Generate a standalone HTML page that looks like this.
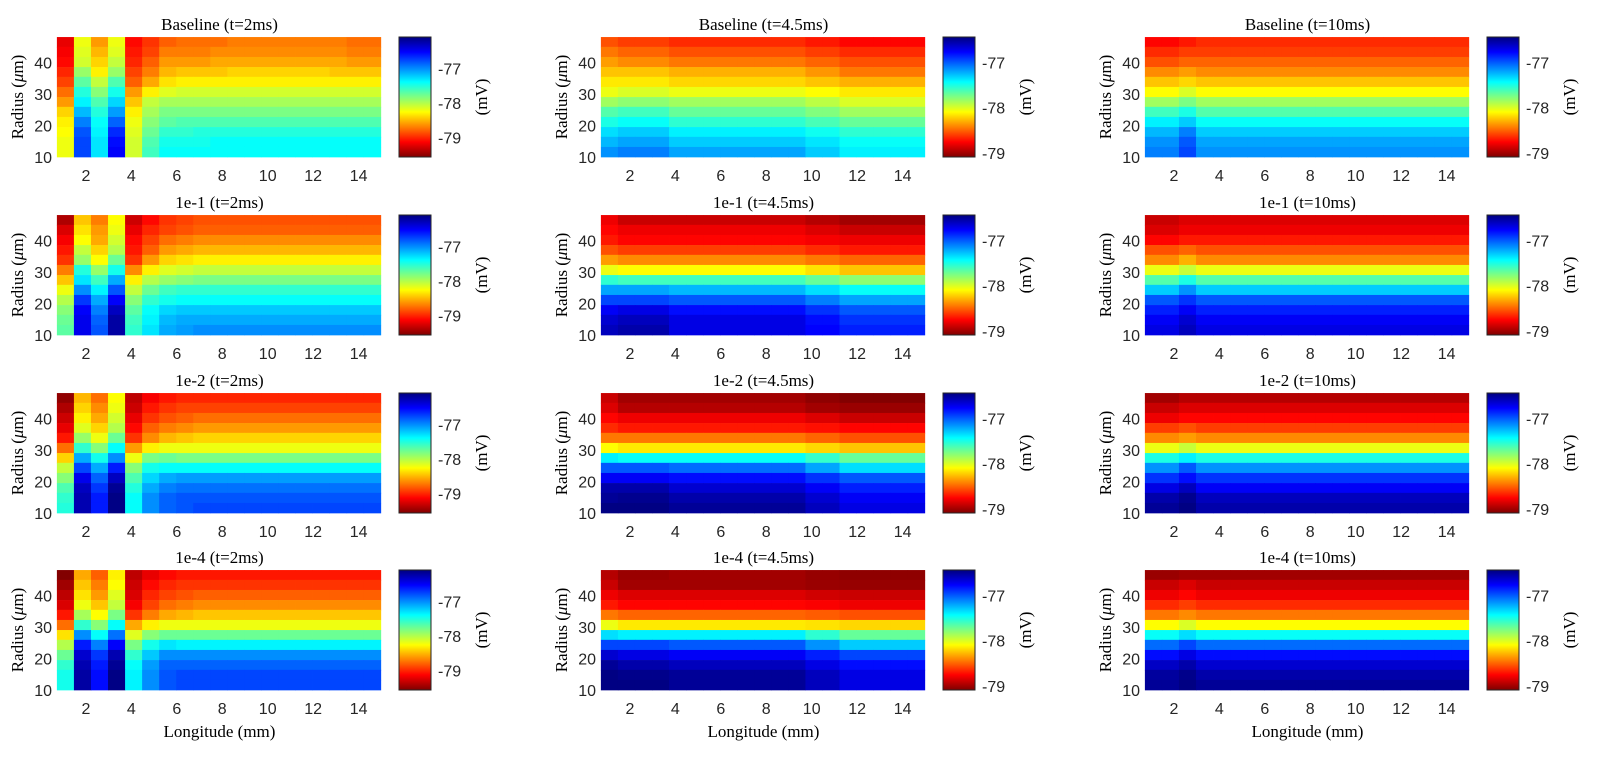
<!DOCTYPE html>
<html><head><meta charset="utf-8"><style>
html,body{margin:0;padding:0;background:#fff;}
svg{display:block;}
.tt{font-family:"Liberation Serif",serif;font-size:17px;fill:#000;}
.tk{font-family:"Liberation Sans",sans-serif;font-size:16px;fill:#262626;}
.cbt{font-family:"Liberation Sans",sans-serif;font-size:16px;fill:#262626;}
</style></head><body>
<svg id="fig" width="1610" height="758" viewBox="0 0 1610 758" xmlns="http://www.w3.org/2000/svg">
<defs id="defs"></defs>
</svg>
<script>
// ---------- data ----------
const longitudes = [1.1,1.85,2.6,3.35,4.1,4.85,5.6,6.35,7.1,7.85,8.6,9.35,10.1,10.85,11.6,12.35,13.1,13.85,14.6];
const radii = [46.4,43.3,40.1,36.9,33.8,30.6,27.4,24.3,21.1,17.9,14.8,11.6]; // top -> bottom
const xTicks = [2,4,6,8,10,12,14];
const yTicks = [10,20,30,40];
const cbTicks = [-77,-78,-79];
const rowLabels = ["Baseline","1e-1","1e-2","1e-4"];
const colTimes = ["t=2ms","t=4.5ms","t=10ms"];
const colRanges = [[-79.56,-76.08],[-79.09,-76.44],[-79.09,-76.44]];

const L1 = [
[-79.2,-78.2,-78.6,-78.2,-79.1,-78.95,-78.8,-78.75,-78.75,-78.75,-78.7,-78.7,-78.7,-78.7,-78.7,-78.7,-78.7,-78.75,-78.75],
[-79.15,-78.15,-78.5,-78.15,-79.05,-78.9,-78.7,-78.7,-78.7,-78.65,-78.65,-78.65,-78.65,-78.65,-78.65,-78.65,-78.65,-78.7,-78.7],
[-79.1,-78.1,-78.4,-78.05,-79.0,-78.8,-78.6,-78.6,-78.6,-78.55,-78.55,-78.55,-78.55,-78.55,-78.55,-78.55,-78.55,-78.6,-78.6],
[-79.0,-77.9,-78.3,-77.9,-78.9,-78.7,-78.5,-78.45,-78.45,-78.45,-78.4,-78.4,-78.4,-78.4,-78.4,-78.4,-78.45,-78.45,-78.45],
[-78.9,-77.7,-78.05,-77.65,-78.8,-78.55,-78.35,-78.3,-78.3,-78.3,-78.3,-78.3,-78.3,-78.3,-78.3,-78.3,-78.3,-78.3,-78.3],
[-78.75,-77.5,-77.85,-77.45,-78.6,-78.3,-78.15,-78.1,-78.1,-78.1,-78.1,-78.1,-78.1,-78.1,-78.1,-78.1,-78.1,-78.1,-78.1],
[-78.6,-77.35,-77.65,-77.25,-78.45,-78.05,-77.95,-77.95,-77.95,-77.95,-77.95,-77.95,-77.95,-77.95,-77.95,-77.95,-77.95,-77.95,-77.95],
[-78.4,-77.15,-77.5,-77.05,-78.3,-77.95,-77.8,-77.8,-77.8,-77.8,-77.8,-77.8,-77.8,-77.8,-77.8,-77.8,-77.8,-77.8,-77.8],
[-78.3,-76.95,-77.4,-76.85,-78.2,-77.85,-77.7,-77.65,-77.65,-77.65,-77.65,-77.65,-77.65,-77.65,-77.65,-77.65,-77.65,-77.65,-77.65],
[-78.25,-76.8,-77.35,-76.65,-78.15,-77.75,-77.55,-77.55,-77.5,-77.5,-77.5,-77.5,-77.5,-77.5,-77.5,-77.5,-77.5,-77.5,-77.5],
[-78.2,-76.75,-77.3,-76.55,-78.1,-77.65,-77.45,-77.45,-77.45,-77.4,-77.4,-77.4,-77.4,-77.4,-77.4,-77.4,-77.4,-77.4,-77.4],
[-78.2,-76.75,-77.3,-76.5,-78.1,-77.6,-77.4,-77.4,-77.4,-77.4,-77.4,-77.4,-77.4,-77.4,-77.4,-77.4,-77.4,-77.4,-77.4]];

const L2 = [
[-79.4,-78.45,-78.7,-78.25,-79.3,-79.1,-78.95,-78.9,-78.85,-78.85,-78.85,-78.85,-78.85,-78.85,-78.85,-78.85,-78.85,-78.85,-78.85],
[-79.25,-78.35,-78.6,-78.2,-79.2,-79.0,-78.9,-78.85,-78.8,-78.8,-78.8,-78.8,-78.8,-78.8,-78.8,-78.8,-78.8,-78.8,-78.8],
[-79.15,-78.25,-78.55,-78.1,-79.1,-78.9,-78.75,-78.7,-78.65,-78.65,-78.65,-78.65,-78.65,-78.65,-78.65,-78.65,-78.65,-78.65,-78.65],
[-79.05,-78.05,-78.4,-78.0,-79.05,-78.8,-78.6,-78.55,-78.5,-78.5,-78.5,-78.5,-78.5,-78.5,-78.5,-78.5,-78.5,-78.5,-78.5],
[-78.95,-77.9,-78.25,-77.75,-78.95,-78.6,-78.4,-78.35,-78.3,-78.3,-78.3,-78.3,-78.3,-78.3,-78.3,-78.3,-78.3,-78.3,-78.3],
[-78.7,-77.5,-77.9,-77.45,-78.65,-78.3,-78.15,-78.1,-78.05,-78.05,-78.05,-78.05,-78.05,-78.05,-78.05,-78.05,-78.05,-78.05,-78.05],
[-78.45,-77.3,-77.6,-77.1,-78.3,-78.0,-77.9,-77.85,-77.8,-77.8,-77.8,-77.8,-77.8,-77.8,-77.8,-77.8,-77.8,-77.8,-77.8],
[-78.2,-77.0,-77.35,-76.8,-78.05,-77.75,-77.6,-77.55,-77.55,-77.55,-77.55,-77.55,-77.55,-77.55,-77.55,-77.55,-77.55,-77.55,-77.55],
[-78.0,-76.7,-77.1,-76.5,-77.85,-77.55,-77.45,-77.4,-77.4,-77.4,-77.4,-77.4,-77.4,-77.4,-77.4,-77.4,-77.4,-77.4,-77.4],
[-77.85,-76.5,-76.95,-76.3,-77.7,-77.4,-77.25,-77.2,-77.2,-77.2,-77.2,-77.2,-77.2,-77.2,-77.2,-77.2,-77.2,-77.2,-77.2],
[-77.75,-76.45,-76.85,-76.2,-77.6,-77.35,-77.15,-77.1,-77.1,-77.1,-77.1,-77.1,-77.1,-77.1,-77.1,-77.1,-77.1,-77.1,-77.1],
[-77.7,-76.45,-76.8,-76.2,-77.55,-77.3,-77.1,-77.05,-77.0,-77.0,-77.0,-77.0,-77.0,-77.0,-77.0,-77.0,-77.0,-77.0,-77.0]];

const L3 = [
[-79.5,-78.5,-78.75,-78.25,-79.35,-79.15,-79.05,-79.0,-79.0,-79.0,-79.0,-79.0,-79.0,-79.0,-79.0,-79.0,-79.0,-79.0,-79.0],
[-79.4,-78.4,-78.65,-78.2,-79.3,-79.05,-78.95,-78.9,-78.9,-78.9,-78.9,-78.9,-78.9,-78.9,-78.9,-78.9,-78.9,-78.9,-78.9],
[-79.3,-78.3,-78.55,-78.1,-79.2,-78.95,-78.85,-78.8,-78.75,-78.75,-78.75,-78.75,-78.75,-78.75,-78.75,-78.75,-78.75,-78.75,-78.75],
[-79.2,-78.15,-78.4,-78.0,-79.1,-78.8,-78.7,-78.65,-78.6,-78.6,-78.6,-78.6,-78.6,-78.6,-78.6,-78.6,-78.6,-78.6,-78.6],
[-79.05,-77.9,-78.2,-77.75,-78.95,-78.65,-78.5,-78.45,-78.4,-78.4,-78.4,-78.4,-78.4,-78.4,-78.4,-78.4,-78.4,-78.4,-78.4],
[-78.75,-77.55,-77.85,-77.4,-78.6,-78.3,-78.2,-78.2,-78.2,-78.2,-78.2,-78.2,-78.2,-78.2,-78.2,-78.2,-78.2,-78.2,-78.2],
[-78.4,-77.1,-77.45,-77.0,-78.2,-77.8,-77.75,-77.8,-77.8,-77.8,-77.8,-77.8,-77.8,-77.8,-77.8,-77.8,-77.8,-77.8,-77.8],
[-78.05,-76.75,-77.1,-76.6,-77.85,-77.45,-77.4,-77.4,-77.4,-77.4,-77.4,-77.4,-77.4,-77.4,-77.4,-77.4,-77.4,-77.4,-77.4],
[-77.85,-76.45,-76.85,-76.3,-77.65,-77.25,-77.1,-77.05,-77.05,-77.05,-77.05,-77.05,-77.05,-77.05,-77.05,-77.05,-77.05,-77.05,-77.05],
[-77.65,-76.3,-76.7,-76.15,-77.5,-77.1,-76.95,-76.9,-76.9,-76.9,-76.9,-76.9,-76.9,-76.9,-76.9,-76.9,-76.9,-76.9,-76.9],
[-77.55,-76.25,-76.6,-76.1,-77.4,-77.0,-76.85,-76.8,-76.8,-76.8,-76.8,-76.8,-76.8,-76.8,-76.8,-76.8,-76.8,-76.8,-76.8],
[-77.5,-76.25,-76.6,-76.1,-77.4,-77.0,-76.85,-76.8,-76.75,-76.75,-76.75,-76.75,-76.75,-76.75,-76.75,-76.75,-76.75,-76.75,-76.75]];

const L4 = [
[-79.55,-78.55,-78.8,-78.3,-79.35,-79.2,-79.1,-79.05,-79.05,-79.05,-79.05,-79.05,-79.05,-79.05,-79.05,-79.05,-79.05,-79.05,-79.05],
[-79.45,-78.45,-78.7,-78.25,-79.3,-79.1,-79.0,-78.95,-78.95,-78.95,-78.95,-78.95,-78.95,-78.95,-78.95,-78.95,-78.95,-78.95,-78.95],
[-79.35,-78.35,-78.6,-78.15,-79.25,-79.0,-78.9,-78.85,-78.8,-78.8,-78.8,-78.8,-78.8,-78.8,-78.8,-78.8,-78.8,-78.8,-78.8],
[-79.25,-78.2,-78.45,-78.05,-79.15,-78.9,-78.75,-78.7,-78.65,-78.65,-78.65,-78.65,-78.65,-78.65,-78.65,-78.65,-78.65,-78.65,-78.65],
[-79.05,-77.95,-78.25,-77.8,-78.95,-78.7,-78.55,-78.5,-78.45,-78.45,-78.45,-78.45,-78.45,-78.45,-78.45,-78.45,-78.45,-78.45,-78.45],
[-78.75,-77.55,-77.85,-77.4,-78.55,-78.3,-78.2,-78.2,-78.2,-78.2,-78.2,-78.2,-78.2,-78.2,-78.2,-78.2,-78.2,-78.2,-78.2],
[-78.35,-77.0,-77.4,-76.9,-78.15,-77.85,-77.75,-77.75,-77.75,-77.75,-77.75,-77.75,-77.75,-77.75,-77.75,-77.75,-77.75,-77.75,-77.75],
[-78.0,-76.6,-76.95,-76.5,-77.8,-77.45,-77.3,-77.35,-77.35,-77.35,-77.35,-77.35,-77.35,-77.35,-77.35,-77.35,-77.35,-77.35,-77.35],
[-77.75,-76.35,-76.7,-76.25,-77.55,-77.2,-77.0,-77.0,-77.0,-77.0,-77.0,-77.0,-77.0,-77.0,-77.0,-77.0,-77.0,-77.0,-77.0],
[-77.55,-76.25,-76.6,-76.15,-77.4,-77.05,-76.85,-76.85,-76.85,-76.85,-76.85,-76.85,-76.85,-76.85,-76.85,-76.85,-76.85,-76.85,-76.85],
[-77.45,-76.2,-76.55,-76.1,-77.35,-77.0,-76.8,-76.75,-76.75,-76.75,-76.75,-76.75,-76.75,-76.75,-76.75,-76.75,-76.75,-76.75,-76.75],
[-77.45,-76.2,-76.55,-76.1,-77.35,-77.0,-76.8,-76.75,-76.75,-76.75,-76.75,-76.75,-76.75,-76.75,-76.75,-76.75,-76.75,-76.75,-76.75]];

const M1 = [
[-78.55,-78.6,-78.6,-78.6,-78.65,-78.65,-78.65,-78.65,-78.65,-78.65,-78.65,-78.65,-78.7,-78.7,-78.75,-78.75,-78.75,-78.75,-78.75],
[-78.45,-78.5,-78.5,-78.5,-78.55,-78.55,-78.55,-78.55,-78.55,-78.55,-78.55,-78.55,-78.6,-78.6,-78.65,-78.65,-78.65,-78.65,-78.65],
[-78.35,-78.4,-78.4,-78.4,-78.45,-78.45,-78.45,-78.45,-78.45,-78.45,-78.45,-78.45,-78.5,-78.5,-78.55,-78.55,-78.55,-78.55,-78.55],
[-78.25,-78.25,-78.25,-78.25,-78.3,-78.3,-78.3,-78.3,-78.3,-78.3,-78.3,-78.3,-78.37,-78.37,-78.45,-78.45,-78.45,-78.45,-78.45],
[-78.15,-78.15,-78.15,-78.15,-78.2,-78.2,-78.2,-78.2,-78.2,-78.2,-78.2,-78.2,-78.25,-78.25,-78.3,-78.3,-78.3,-78.3,-78.3],
[-78.05,-78.0,-78.0,-78.0,-78.05,-78.05,-78.05,-78.05,-78.05,-78.05,-78.05,-78.05,-78.1,-78.1,-78.15,-78.15,-78.15,-78.15,-78.15],
[-77.85,-77.8,-77.8,-77.8,-77.85,-77.85,-77.85,-77.85,-77.85,-77.85,-77.85,-77.85,-77.92,-77.92,-78.0,-78.0,-78.0,-78.0,-78.0],
[-77.65,-77.6,-77.6,-77.6,-77.7,-77.7,-77.7,-77.7,-77.7,-77.7,-77.7,-77.7,-77.77,-77.77,-77.85,-77.85,-77.85,-77.85,-77.85],
[-77.5,-77.45,-77.45,-77.45,-77.55,-77.55,-77.55,-77.55,-77.55,-77.55,-77.55,-77.55,-77.62,-77.62,-77.7,-77.7,-77.7,-77.7,-77.7],
[-77.35,-77.3,-77.3,-77.3,-77.4,-77.4,-77.4,-77.4,-77.4,-77.4,-77.4,-77.4,-77.47,-77.47,-77.55,-77.55,-77.55,-77.55,-77.55],
[-77.25,-77.2,-77.2,-77.2,-77.3,-77.3,-77.3,-77.3,-77.3,-77.3,-77.3,-77.3,-77.37,-77.37,-77.45,-77.45,-77.45,-77.45,-77.45],
[-77.15,-77.1,-77.1,-77.1,-77.2,-77.2,-77.2,-77.2,-77.2,-77.2,-77.2,-77.2,-77.3,-77.3,-77.4,-77.4,-77.4,-77.4,-77.4]];

const M2 = [
[-78.8,-78.9,-78.9,-78.9,-78.9,-78.9,-78.9,-78.9,-78.9,-78.9,-78.9,-78.9,-78.95,-78.95,-79.0,-79.0,-79.0,-79.0,-79.0],
[-78.75,-78.8,-78.8,-78.8,-78.8,-78.8,-78.8,-78.8,-78.8,-78.8,-78.8,-78.8,-78.85,-78.85,-78.9,-78.9,-78.9,-78.9,-78.9],
[-78.7,-78.75,-78.75,-78.75,-78.75,-78.75,-78.75,-78.75,-78.75,-78.75,-78.75,-78.75,-78.78,-78.78,-78.8,-78.8,-78.8,-78.8,-78.8],
[-78.55,-78.6,-78.6,-78.6,-78.6,-78.6,-78.6,-78.6,-78.6,-78.6,-78.6,-78.6,-78.65,-78.65,-78.7,-78.7,-78.7,-78.7,-78.7],
[-78.35,-78.4,-78.4,-78.4,-78.4,-78.4,-78.4,-78.4,-78.4,-78.4,-78.4,-78.4,-78.45,-78.45,-78.5,-78.5,-78.5,-78.5,-78.5],
[-78.05,-78.1,-78.1,-78.1,-78.1,-78.1,-78.1,-78.1,-78.1,-78.1,-78.1,-78.1,-78.17,-78.17,-78.25,-78.25,-78.25,-78.25,-78.25],
[-77.55,-77.6,-77.6,-77.6,-77.6,-77.6,-77.6,-77.6,-77.6,-77.6,-77.6,-77.6,-77.7,-77.7,-77.8,-77.8,-77.8,-77.8,-77.8],
[-77.2,-77.2,-77.2,-77.2,-77.25,-77.25,-77.25,-77.25,-77.25,-77.25,-77.25,-77.25,-77.35,-77.35,-77.45,-77.45,-77.45,-77.45,-77.45],
[-76.95,-76.95,-76.95,-76.95,-77.0,-77.0,-77.0,-77.0,-77.0,-77.0,-77.0,-77.0,-77.1,-77.1,-77.2,-77.2,-77.2,-77.2,-77.2],
[-76.75,-76.7,-76.7,-76.7,-76.8,-76.8,-76.8,-76.8,-76.8,-76.8,-76.8,-76.8,-76.9,-76.9,-77.0,-77.0,-77.0,-77.0,-77.0],
[-76.65,-76.6,-76.6,-76.6,-76.7,-76.7,-76.7,-76.7,-76.7,-76.7,-76.7,-76.7,-76.8,-76.8,-76.9,-76.9,-76.9,-76.9,-76.9],
[-76.6,-76.55,-76.55,-76.55,-76.7,-76.7,-76.7,-76.7,-76.7,-76.7,-76.7,-76.7,-76.77,-76.77,-76.85,-76.85,-76.85,-76.85,-76.85]];

const M3 = [
[-78.9,-79.0,-79.0,-79.0,-79.0,-79.0,-79.0,-79.0,-79.0,-79.0,-79.0,-79.0,-79.05,-79.05,-79.08,-79.08,-79.08,-79.08,-79.08],
[-78.85,-78.95,-78.95,-78.95,-78.95,-78.95,-78.95,-78.95,-78.95,-78.95,-78.95,-78.95,-79.0,-79.0,-79.02,-79.02,-79.02,-79.02,-79.02],
[-78.75,-78.8,-78.8,-78.8,-78.8,-78.8,-78.8,-78.8,-78.8,-78.8,-78.8,-78.8,-78.85,-78.85,-78.9,-78.9,-78.9,-78.9,-78.9],
[-78.65,-78.7,-78.7,-78.7,-78.7,-78.7,-78.7,-78.7,-78.7,-78.7,-78.7,-78.7,-78.72,-78.72,-78.75,-78.75,-78.75,-78.75,-78.75],
[-78.45,-78.45,-78.45,-78.45,-78.45,-78.45,-78.45,-78.45,-78.45,-78.45,-78.45,-78.45,-78.5,-78.5,-78.55,-78.55,-78.55,-78.55,-78.55],
[-78.1,-78.15,-78.15,-78.15,-78.15,-78.15,-78.15,-78.15,-78.15,-78.15,-78.15,-78.15,-78.2,-78.2,-78.25,-78.25,-78.25,-78.25,-78.25],
[-77.4,-77.45,-77.45,-77.45,-77.45,-77.45,-77.45,-77.45,-77.45,-77.45,-77.45,-77.45,-77.57,-77.57,-77.7,-77.7,-77.7,-77.7,-77.7],
[-77.0,-77.0,-77.0,-77.0,-77.05,-77.05,-77.05,-77.05,-77.05,-77.05,-77.05,-77.05,-77.2,-77.2,-77.35,-77.35,-77.35,-77.35,-77.35],
[-76.75,-76.75,-76.75,-76.75,-76.8,-76.8,-76.8,-76.8,-76.8,-76.8,-76.8,-76.8,-76.9,-76.9,-77.0,-77.0,-77.0,-77.0,-77.0],
[-76.55,-76.55,-76.55,-76.55,-76.65,-76.65,-76.65,-76.65,-76.65,-76.65,-76.65,-76.65,-76.75,-76.75,-76.85,-76.85,-76.85,-76.85,-76.85],
[-76.5,-76.48,-76.48,-76.48,-76.55,-76.55,-76.55,-76.55,-76.55,-76.55,-76.55,-76.55,-76.65,-76.65,-76.75,-76.75,-76.75,-76.75,-76.75],
[-76.45,-76.45,-76.45,-76.45,-76.5,-76.5,-76.5,-76.5,-76.5,-76.5,-76.5,-76.5,-76.6,-76.6,-76.7,-76.7,-76.7,-76.7,-76.7]];

const M4 = [
[-78.95,-79.02,-79.02,-79.02,-79.0,-79.0,-79.0,-79.0,-79.0,-79.0,-79.0,-79.0,-79.03,-79.03,-79.05,-79.05,-79.05,-79.05,-79.05],
[-78.9,-79.0,-79.0,-79.0,-79.0,-79.0,-79.0,-79.0,-79.0,-79.0,-79.0,-79.0,-79.02,-79.02,-79.03,-79.03,-79.03,-79.03,-79.03],
[-78.8,-78.85,-78.85,-78.85,-78.85,-78.85,-78.85,-78.85,-78.85,-78.85,-78.85,-78.85,-78.88,-78.88,-78.9,-78.9,-78.9,-78.9,-78.9],
[-78.7,-78.75,-78.75,-78.75,-78.75,-78.75,-78.75,-78.75,-78.75,-78.75,-78.75,-78.75,-78.77,-78.77,-78.8,-78.8,-78.8,-78.8,-78.8],
[-78.45,-78.5,-78.5,-78.5,-78.5,-78.5,-78.5,-78.5,-78.5,-78.5,-78.5,-78.5,-78.52,-78.52,-78.55,-78.55,-78.55,-78.55,-78.55],
[-78.05,-78.15,-78.15,-78.15,-78.15,-78.15,-78.15,-78.15,-78.15,-78.15,-78.15,-78.15,-78.17,-78.17,-78.2,-78.2,-78.2,-78.2,-78.2],
[-77.35,-77.4,-77.4,-77.4,-77.4,-77.4,-77.4,-77.4,-77.4,-77.4,-77.4,-77.4,-77.55,-77.55,-77.7,-77.7,-77.7,-77.7,-77.7],
[-76.95,-76.95,-76.95,-76.95,-77.0,-77.0,-77.0,-77.0,-77.0,-77.0,-77.0,-77.0,-77.15,-77.15,-77.3,-77.3,-77.3,-77.3,-77.3],
[-76.65,-76.7,-76.7,-76.7,-76.75,-76.75,-76.75,-76.75,-76.75,-76.75,-76.75,-76.75,-76.85,-76.85,-76.95,-76.95,-76.95,-76.95,-76.95],
[-76.5,-76.55,-76.55,-76.55,-76.6,-76.6,-76.6,-76.6,-76.6,-76.6,-76.6,-76.6,-76.7,-76.7,-76.8,-76.8,-76.8,-76.8,-76.8],
[-76.45,-76.47,-76.47,-76.47,-76.5,-76.5,-76.5,-76.5,-76.5,-76.5,-76.5,-76.5,-76.6,-76.6,-76.7,-76.7,-76.7,-76.7,-76.7],
[-76.45,-76.45,-76.45,-76.45,-76.5,-76.5,-76.5,-76.5,-76.5,-76.5,-76.5,-76.5,-76.6,-76.6,-76.7,-76.7,-76.7,-76.7,-76.7]];

const R1 = [
[-78.75,-78.75,-78.7,-78.65,-78.65,-78.65,-78.65,-78.65,-78.65,-78.65,-78.65,-78.65,-78.65,-78.65,-78.65,-78.65,-78.65,-78.65,-78.65],
[-78.65,-78.65,-78.6,-78.6,-78.6,-78.6,-78.6,-78.6,-78.6,-78.6,-78.6,-78.6,-78.6,-78.6,-78.6,-78.6,-78.6,-78.6,-78.6],
[-78.55,-78.55,-78.5,-78.5,-78.5,-78.5,-78.5,-78.5,-78.5,-78.5,-78.5,-78.5,-78.5,-78.5,-78.5,-78.5,-78.5,-78.5,-78.5],
[-78.4,-78.4,-78.35,-78.4,-78.4,-78.4,-78.4,-78.4,-78.4,-78.4,-78.4,-78.4,-78.4,-78.4,-78.4,-78.4,-78.4,-78.4,-78.4],
[-78.25,-78.25,-78.2,-78.25,-78.25,-78.25,-78.25,-78.25,-78.25,-78.25,-78.25,-78.25,-78.25,-78.25,-78.25,-78.25,-78.25,-78.25,-78.25],
[-78.1,-78.1,-78.0,-78.1,-78.1,-78.1,-78.1,-78.1,-78.1,-78.1,-78.1,-78.1,-78.1,-78.1,-78.1,-78.1,-78.1,-78.1,-78.1],
[-77.85,-77.85,-77.75,-77.85,-77.85,-77.85,-77.85,-77.85,-77.85,-77.85,-77.85,-77.85,-77.85,-77.85,-77.85,-77.85,-77.85,-77.85,-77.85],
[-77.6,-77.6,-77.5,-77.65,-77.65,-77.65,-77.65,-77.65,-77.65,-77.65,-77.65,-77.65,-77.65,-77.65,-77.65,-77.65,-77.65,-77.65,-77.65],
[-77.4,-77.4,-77.3,-77.45,-77.45,-77.45,-77.45,-77.45,-77.45,-77.45,-77.45,-77.45,-77.45,-77.45,-77.45,-77.45,-77.45,-77.45,-77.45],
[-77.25,-77.25,-77.1,-77.3,-77.3,-77.3,-77.3,-77.3,-77.3,-77.3,-77.3,-77.3,-77.3,-77.3,-77.3,-77.3,-77.3,-77.3,-77.3],
[-77.15,-77.15,-77.0,-77.2,-77.2,-77.2,-77.2,-77.2,-77.2,-77.2,-77.2,-77.2,-77.2,-77.2,-77.2,-77.2,-77.2,-77.2,-77.2],
[-77.1,-77.1,-76.95,-77.15,-77.15,-77.15,-77.15,-77.15,-77.15,-77.15,-77.15,-77.15,-77.15,-77.15,-77.15,-77.15,-77.15,-77.15,-77.15]];

const R2 = [
[-78.9,-78.9,-78.85,-78.85,-78.85,-78.85,-78.85,-78.85,-78.85,-78.85,-78.85,-78.85,-78.85,-78.85,-78.85,-78.85,-78.85,-78.85,-78.85],
[-78.85,-78.85,-78.8,-78.8,-78.8,-78.8,-78.8,-78.8,-78.8,-78.8,-78.8,-78.8,-78.8,-78.8,-78.8,-78.8,-78.8,-78.8,-78.8],
[-78.75,-78.75,-78.7,-78.7,-78.7,-78.7,-78.7,-78.7,-78.7,-78.7,-78.7,-78.7,-78.7,-78.7,-78.7,-78.7,-78.7,-78.7,-78.7],
[-78.55,-78.55,-78.5,-78.55,-78.55,-78.55,-78.55,-78.55,-78.55,-78.55,-78.55,-78.55,-78.55,-78.55,-78.55,-78.55,-78.55,-78.55,-78.55],
[-78.4,-78.4,-78.3,-78.4,-78.4,-78.4,-78.4,-78.4,-78.4,-78.4,-78.4,-78.4,-78.4,-78.4,-78.4,-78.4,-78.4,-78.4,-78.4],
[-78.05,-78.05,-77.95,-78.05,-78.05,-78.05,-78.05,-78.05,-78.05,-78.05,-78.05,-78.05,-78.05,-78.05,-78.05,-78.05,-78.05,-78.05,-78.05],
[-77.65,-77.65,-77.5,-77.65,-77.65,-77.65,-77.65,-77.65,-77.65,-77.65,-77.65,-77.65,-77.65,-77.65,-77.65,-77.65,-77.65,-77.65,-77.65],
[-77.3,-77.3,-77.15,-77.3,-77.3,-77.3,-77.3,-77.3,-77.3,-77.3,-77.3,-77.3,-77.3,-77.3,-77.3,-77.3,-77.3,-77.3,-77.3],
[-77.0,-77.0,-76.9,-77.0,-77.0,-77.0,-77.0,-77.0,-77.0,-77.0,-77.0,-77.0,-77.0,-77.0,-77.0,-77.0,-77.0,-77.0,-77.0],
[-76.85,-76.85,-76.75,-76.85,-76.85,-76.85,-76.85,-76.85,-76.85,-76.85,-76.85,-76.85,-76.85,-76.85,-76.85,-76.85,-76.85,-76.85,-76.85],
[-76.75,-76.75,-76.65,-76.75,-76.75,-76.75,-76.75,-76.75,-76.75,-76.75,-76.75,-76.75,-76.75,-76.75,-76.75,-76.75,-76.75,-76.75,-76.75],
[-76.7,-76.7,-76.6,-76.7,-76.7,-76.7,-76.7,-76.7,-76.7,-76.7,-76.7,-76.7,-76.7,-76.7,-76.7,-76.7,-76.7,-76.7,-76.7]];

const R3 = [
[-79.0,-79.0,-78.95,-78.95,-78.95,-78.95,-78.95,-78.95,-78.95,-78.95,-78.95,-78.95,-78.95,-78.95,-78.95,-78.95,-78.95,-78.95,-78.95],
[-78.9,-78.9,-78.85,-78.85,-78.85,-78.85,-78.85,-78.85,-78.85,-78.85,-78.85,-78.85,-78.85,-78.85,-78.85,-78.85,-78.85,-78.85,-78.85],
[-78.8,-78.8,-78.75,-78.75,-78.75,-78.75,-78.75,-78.75,-78.75,-78.75,-78.75,-78.75,-78.75,-78.75,-78.75,-78.75,-78.75,-78.75,-78.75],
[-78.6,-78.6,-78.55,-78.6,-78.6,-78.6,-78.6,-78.6,-78.6,-78.6,-78.6,-78.6,-78.6,-78.6,-78.6,-78.6,-78.6,-78.6,-78.6],
[-78.4,-78.4,-78.35,-78.4,-78.4,-78.4,-78.4,-78.4,-78.4,-78.4,-78.4,-78.4,-78.4,-78.4,-78.4,-78.4,-78.4,-78.4,-78.4],
[-78.05,-78.05,-77.95,-78.05,-78.05,-78.05,-78.05,-78.05,-78.05,-78.05,-78.05,-78.05,-78.05,-78.05,-78.05,-78.05,-78.05,-78.05,-78.05],
[-77.5,-77.5,-77.4,-77.5,-77.5,-77.5,-77.5,-77.5,-77.5,-77.5,-77.5,-77.5,-77.5,-77.5,-77.5,-77.5,-77.5,-77.5,-77.5],
[-77.15,-77.15,-77.0,-77.15,-77.15,-77.15,-77.15,-77.15,-77.15,-77.15,-77.15,-77.15,-77.15,-77.15,-77.15,-77.15,-77.15,-77.15,-77.15],
[-76.9,-76.9,-76.8,-76.9,-76.9,-76.9,-76.9,-76.9,-76.9,-76.9,-76.9,-76.9,-76.9,-76.9,-76.9,-76.9,-76.9,-76.9,-76.9],
[-76.7,-76.7,-76.6,-76.75,-76.75,-76.75,-76.75,-76.75,-76.75,-76.75,-76.75,-76.75,-76.75,-76.75,-76.75,-76.75,-76.75,-76.75,-76.75],
[-76.55,-76.55,-76.48,-76.6,-76.6,-76.6,-76.6,-76.6,-76.6,-76.6,-76.6,-76.6,-76.6,-76.6,-76.6,-76.6,-76.6,-76.6,-76.6],
[-76.5,-76.5,-76.45,-76.55,-76.55,-76.55,-76.55,-76.55,-76.55,-76.55,-76.55,-76.55,-76.55,-76.55,-76.55,-76.55,-76.55,-76.55,-76.55]];

const R4 = [
[-79.02,-79.02,-79.0,-79.0,-79.0,-79.0,-79.0,-79.0,-79.0,-79.0,-79.0,-79.0,-79.0,-79.0,-79.0,-79.0,-79.0,-79.0,-79.0],
[-78.9,-78.9,-78.85,-78.9,-78.9,-78.9,-78.9,-78.9,-78.9,-78.9,-78.9,-78.9,-78.9,-78.9,-78.9,-78.9,-78.9,-78.9,-78.9],
[-78.8,-78.8,-78.75,-78.8,-78.8,-78.8,-78.8,-78.8,-78.8,-78.8,-78.8,-78.8,-78.8,-78.8,-78.8,-78.8,-78.8,-78.8,-78.8],
[-78.65,-78.65,-78.6,-78.65,-78.65,-78.65,-78.65,-78.65,-78.65,-78.65,-78.65,-78.65,-78.65,-78.65,-78.65,-78.65,-78.65,-78.65,-78.65],
[-78.45,-78.45,-78.4,-78.45,-78.45,-78.45,-78.45,-78.45,-78.45,-78.45,-78.45,-78.45,-78.45,-78.45,-78.45,-78.45,-78.45,-78.45,-78.45],
[-78.1,-78.1,-78.0,-78.1,-78.1,-78.1,-78.1,-78.1,-78.1,-78.1,-78.1,-78.1,-78.1,-78.1,-78.1,-78.1,-78.1,-78.1,-78.1],
[-77.45,-77.45,-77.35,-77.45,-77.45,-77.45,-77.45,-77.45,-77.45,-77.45,-77.45,-77.45,-77.45,-77.45,-77.45,-77.45,-77.45,-77.45,-77.45],
[-77.05,-77.05,-76.95,-77.05,-77.05,-77.05,-77.05,-77.05,-77.05,-77.05,-77.05,-77.05,-77.05,-77.05,-77.05,-77.05,-77.05,-77.05,-77.05],
[-76.8,-76.8,-76.7,-76.8,-76.8,-76.8,-76.8,-76.8,-76.8,-76.8,-76.8,-76.8,-76.8,-76.8,-76.8,-76.8,-76.8,-76.8,-76.8],
[-76.62,-76.62,-76.55,-76.65,-76.65,-76.65,-76.65,-76.65,-76.65,-76.65,-76.65,-76.65,-76.65,-76.65,-76.65,-76.65,-76.65,-76.65,-76.65],
[-76.52,-76.52,-76.47,-76.55,-76.55,-76.55,-76.55,-76.55,-76.55,-76.55,-76.55,-76.55,-76.55,-76.55,-76.55,-76.55,-76.55,-76.55,-76.55],
[-76.5,-76.5,-76.45,-76.5,-76.5,-76.5,-76.5,-76.5,-76.5,-76.5,-76.5,-76.5,-76.5,-76.5,-76.5,-76.5,-76.5,-76.5,-76.5]];

const panels = [[L1,M1,R1],[L2,M2,R2],[L3,M3,R3],[L4,M4,R4]];

// ---------- layout ----------
const NS = "http://www.w3.org/2000/svg";
const svg = document.getElementById('fig');
const defs = document.getElementById('defs');
const colLeft = [57,601,1145];
const rowTop = [37,215,393,570];
const PW = 325, PH = 120, CBW = 32, CBOFF = 342;
const xDom = [0.73,15.03], yDom = [10,48];
const cellW = 0.75, cellH = 38/12;

function jet(t){
  t = Math.max(0,Math.min(1,t));
  const c = v => Math.round(255*Math.max(0,Math.min(1,v)));
  return `rgb(${c(1.5-Math.abs(4*t-3))},${c(1.5-Math.abs(4*t-2))},${c(1.5-Math.abs(4*t-1))})`;
}
function mk(tag, attrs, parent){
  const e = document.createElementNS(NS, tag);
  for (const k in attrs) e.setAttribute(k, attrs[k]);
  (parent||svg).appendChild(e);
  return e;
}

// colorbar gradient
const grad = mk('linearGradient',{id:'jetgrad',x1:0,y1:0,x2:0,y2:1},defs);
for (let i=0;i<=64;i++){ mk('stop',{offset:(i/64).toFixed(4),'stop-color':jet(i/64)},grad); }

for (let r=0;r<4;r++){
  for (let c=0;c<3;c++){
    const x0 = colLeft[c], y0 = rowTop[r];
    const [vmin,vmax] = colRanges[c];
    const xs = v => x0 + (v - xDom[0])/(xDom[1]-xDom[0])*PW;
    const ys = v => y0 + PH - (v - yDom[0])/(yDom[1]-yDom[0])*PH;
    const data = panels[r][c];
    const g = mk('g',{});
    
    
    data.forEach((row, i) => {
      row.forEach((v, j) => {
        const xa = xs(longitudes[j]-cellW/2), xb = xs(longitudes[j]+cellW/2);
        const ya = ys(radii[i]+cellH/2), yb = ys(radii[i]-cellH/2);
        const rect = mk('rect',{x:xa.toFixed(2),y:ya.toFixed(2),width:(xb-xa+0.4).toFixed(2),height:(yb-ya+0.4).toFixed(2),fill:jet((vmax-v)/(vmax-vmin))},g);
        
        
      });
    });
    // title
    const t = mk('text',{x:x0+PW/2,y:y0-7,'text-anchor':'middle',class:'tt'});
    t.textContent = rowLabels[r] + ' (' + colTimes[c] + ')';
    
    
    // x ticks
    xTicks.forEach(v => {
      const tx = mk('text',{x:xs(v).toFixed(1),y:y0+PH+24,'text-anchor':'middle',class:'tk'});
      tx.textContent = v;
      
      
    });
    // y ticks
    yTicks.forEach(v => {
      const ty = mk('text',{x:x0-5,y:(ys(v)+6).toFixed(1),'text-anchor':'end',class:'tk'});
      ty.textContent = v;
      
      
    });
    // y label
    const yl = mk('text',{x:0,y:0,'text-anchor':'middle',class:'tt',transform:`translate(${x0-34},${y0+PH/2}) rotate(-90)`});
    yl.innerHTML = 'Radius (<tspan font-style="italic">μ</tspan>m)';
    
    
    // colorbar
    const cbx = x0 + CBOFF;
    const cb = mk('rect',{x:cbx,y:y0,width:CBW,height:PH,fill:'url(#jetgrad)',stroke:'#262626','stroke-width':1});
    
    
    const cs = v => y0 + (vmax - v)/(vmax - vmin)*PH;
    cbTicks.forEach(v => {
      const ct = mk('text',{x:cbx+CBW+7,y:(cs(v)+6).toFixed(1),class:'cbt'});
      ct.textContent = v;
      
      
    });
    const ml = mk('text',{x:0,y:0,'text-anchor':'middle',class:'tt',transform:`translate(${cbx+88},${y0+PH/2}) rotate(-90)`});
    ml.textContent = '(mV)';
    
    
    if (r===3){
      const xl = mk('text',{x:x0+PW/2,y:y0+PH+47,'text-anchor':'middle',class:'tt'});
      xl.textContent = 'Longitude (mm)';
      
      
    }
  }
}
</script>
</body></html>
